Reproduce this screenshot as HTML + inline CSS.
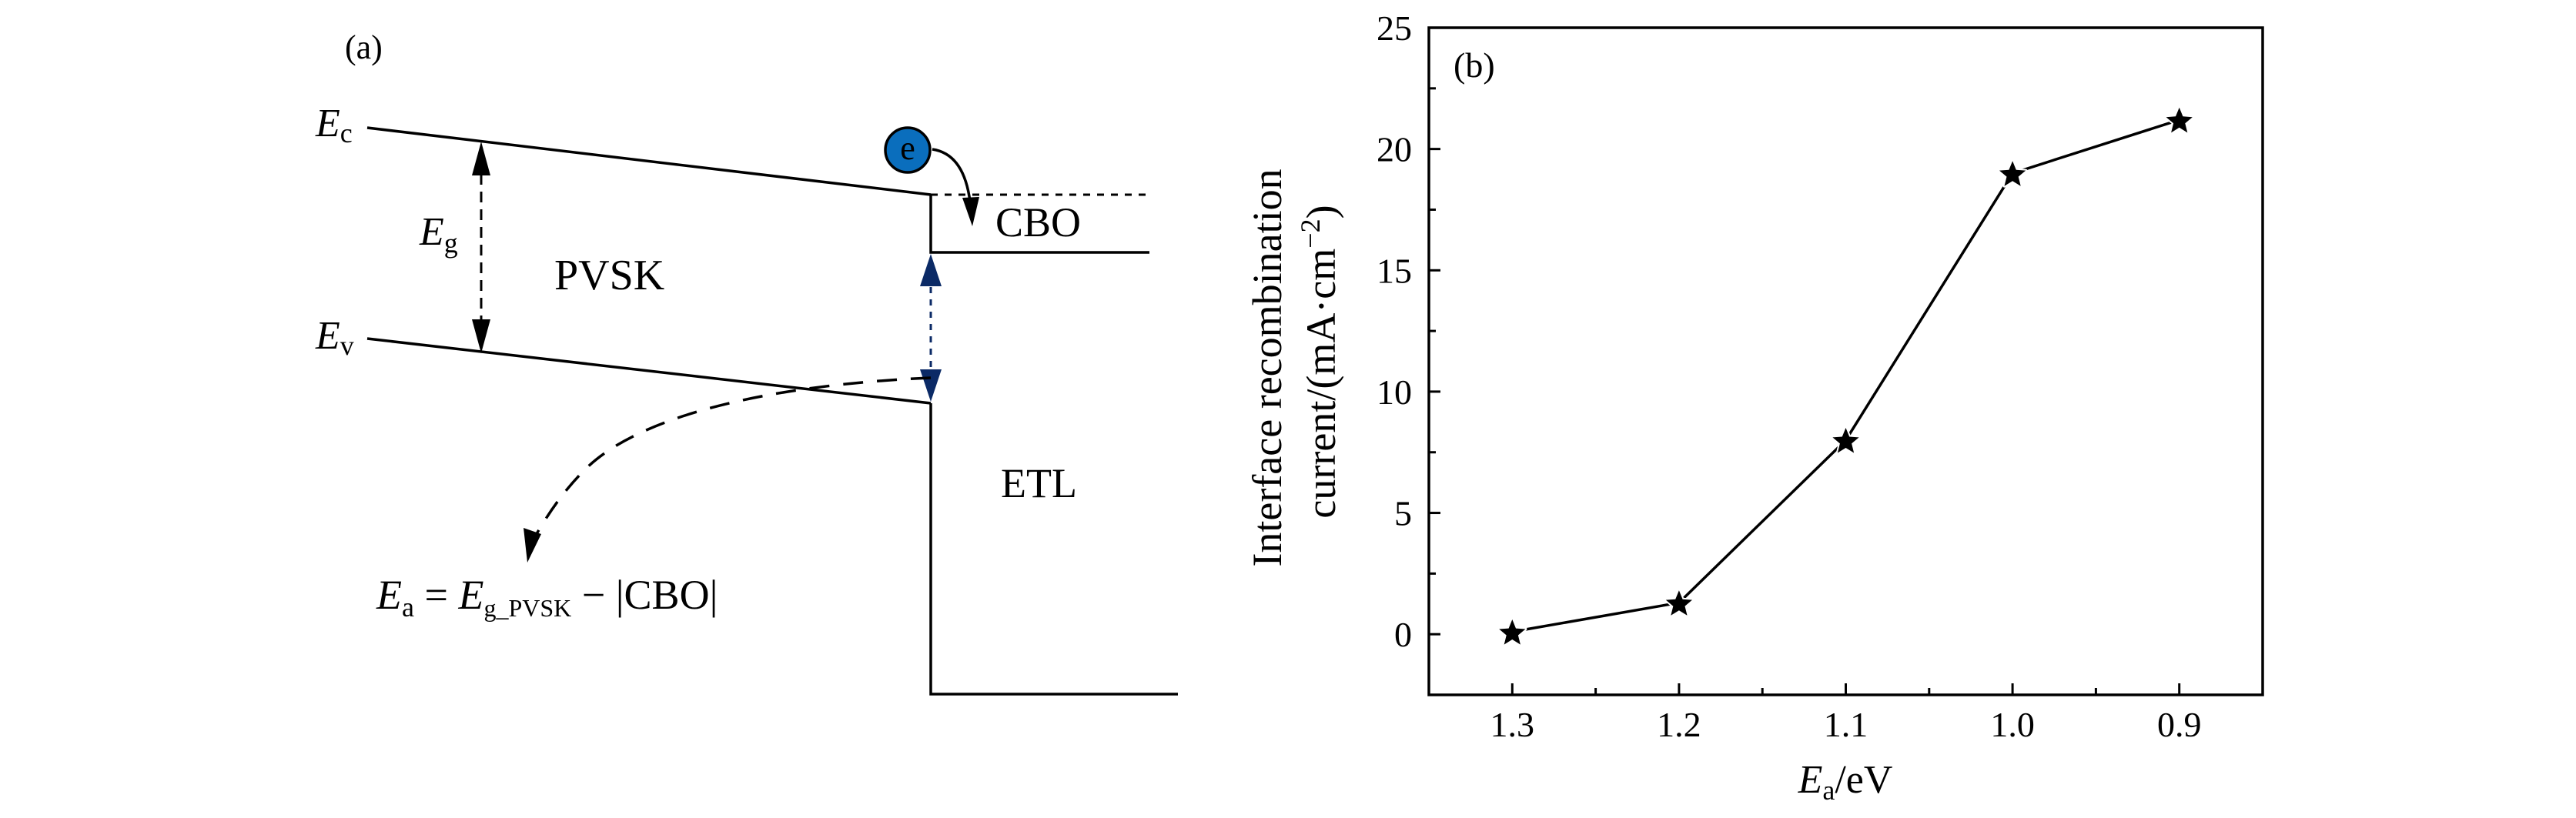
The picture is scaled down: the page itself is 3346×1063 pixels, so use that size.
<!DOCTYPE html>
<html><head><meta charset="utf-8"><style>
html,body{margin:0;padding:0;background:#fff}
svg{display:block}
text{font-family:"Liberation Serif",serif;fill:#000}
</style></head><body>
<svg id="fig" width="3346" height="1063" viewBox="0 0 3346 1063" xmlns="http://www.w3.org/2000/svg">
<g id="panel-a">
<text x="448" y="76" font-size="44">(a)</text>
<line x1="477" y1="166" x2="1209" y2="253" stroke="#000" stroke-width="3.5"/>
<line x1="477" y1="440" x2="1209" y2="524" stroke="#000" stroke-width="3.5"/>
<polyline points="1209,253 1209,328 1493,328" fill="none" stroke="#000" stroke-width="3.5"/>
<polyline points="1209,524 1209,902 1530,902" fill="none" stroke="#000" stroke-width="3.5"/>
<line x1="1209" y1="253" x2="1490" y2="253" stroke="#000" stroke-width="3" stroke-dasharray="9,9"/>
<text x="410" y="177" font-size="52" font-style="italic">E<tspan font-size="36" font-style="normal" dy="8">c</tspan></text>
<text x="410" y="453" font-size="52" font-style="italic">E<tspan font-size="36" font-style="normal" dy="8">v</tspan></text>
<line x1="625" y1="226" x2="625" y2="418" stroke="#000" stroke-width="3" stroke-dasharray="14,9"/>
<path d="M625,184 L613,228 L637,228 z M625,459 L613,415 L637,415 z" fill="#000"/>
<text x="545" y="318" font-size="52" font-style="italic">E<tspan font-size="36" font-style="normal" dy="10">g</tspan></text>
<text x="720" y="376" font-size="56">PVSK</text>
<text x="1293" y="307" font-size="54">CBO</text>
<text x="1300" y="646" font-size="54">ETL</text>
<circle cx="1179" cy="195" r="29" fill="#0a6ebd" stroke="#000" stroke-width="3.5"/>
<text x="1179" y="207" font-size="44" text-anchor="middle">e</text>
<path d="M1211,194 Q1252,200 1260,262" fill="none" stroke="#000" stroke-width="3.5"/>
<path d="M1263,294 L1250,257 L1272,256 z" fill="#000"/>
<line x1="1209" y1="373" x2="1209" y2="480" stroke="#0b2a66" stroke-width="3" stroke-dasharray="8,8"/>
<path d="M1209,330 L1195,372 L1223,372 z M1209,522 L1195,480 L1223,480 z" fill="#0b2a66"/>
<path d="M1209,491 C1000,500 830,540 760,610 C720,650 700,690 693,700" fill="none" stroke="#000" stroke-width="3.5" stroke-dasharray="26,18"/>
<path d="M685,731 L680,686 L703,694 z" fill="#000"/>
<text x="489" y="791" font-size="54"><tspan font-style="italic">E</tspan><tspan font-size="36" dy="10">a</tspan><tspan dy="-10"> = </tspan><tspan font-style="italic">E</tspan><tspan font-size="32" dy="10">g_PVSK</tspan><tspan dy="-10"> − |CBO|</tspan></text>
</g>
<g id="panel-b"></g>
<script>
var xValues = [1.3, 1.2, 1.1, 1.0, 0.9];
var yValues = [0.1, 1.3, 8.0, 19.0, 21.2];
var xTickLabels = ["1.3", "1.2", "1.1", "1.0", "0.9"];
var yTickValues = [0, 5, 10, 15, 20, 25];
var yTickLabels = ["0", "5", "10", "15", "20", "25"];

var L = 1856, R = 2939, T = 36, B = 903;
var X0 = 1.35, X1 = 0.85, Y0 = -2.5, Y1 = 25;
function sx(v){ return L + (v - X0) / (X1 - X0) * (R - L); }
function sy(v){ return B - (v - Y0) / (Y1 - Y0) * (B - T); }
var NS = "http://www.w3.org/2000/svg";
var g = document.getElementById('panel-b');
function mk(tag, attrs, parent){ var e = document.createElementNS(NS, tag); for (var k in attrs) e.setAttribute(k, attrs[k]); (parent || g).appendChild(e); return e; }
function ts(parent, txt, attrs){ var s = mk('tspan', attrs || {}, parent); s.textContent = txt; return s; }

var frame = mk('rect', {x:L, y:T, width:R-L, height:B-T, fill:'none', stroke:'#000', 'stroke-width':3.5});



var v, i, t, lbl;
for (v = 0.9; v <= 1.351; v += 0.05) {
  var major = Math.abs(Math.round(v*10) - v*10) < 0.01;
  t = mk('line', {x1:sx(v), x2:sx(v), y1:B, y2:B-(major?15:9), stroke:'#000', 'stroke-width':3});
  
  
}
for (v = 0; v <= 25; v += 2.5) {
  var maj = (v % 5) === 0;
  t = mk('line', {x1:L, x2:L+(maj?15:9), y1:sy(v), y2:sy(v), stroke:'#000', 'stroke-width':3});
  
  
}
for (i = 0; i < xValues.length; i++) {
  lbl = mk('text', {x:sx(xValues[i]), y:957, 'font-size':46, 'text-anchor':'middle'});
  lbl.textContent = xTickLabels[i];
  
  
}
for (i = 0; i < yTickValues.length; i++) {
  lbl = mk('text', {x:1834, y:sy(yTickValues[i])+16, 'font-size':46, 'text-anchor':'end'});
  lbl.textContent = yTickLabels[i];
  
  
}
var pts = [];
for (i = 0; i < xValues.length; i++) pts.push(sx(xValues[i]) + ',' + sy(yValues[i]));
var line = mk('polyline', {points:pts.join(' '), fill:'none', stroke:'#000', 'stroke-width':3.5});


function starPath(cx, cy, ro, ri){
  var d = '';
  for (var k = 0; k < 10; k++) {
    var r = k % 2 ? ri : ro, a = -Math.PI/2 + k*Math.PI/5;
    d += (k ? 'L' : 'M') + (cx + r*Math.cos(a)).toFixed(1) + ',' + (cy + r*Math.sin(a)).toFixed(1);
  }
  return d + 'Z';
}
for (i = 0; i < xValues.length; i++) {
  var st = mk('path', {d:starPath(sx(xValues[i]), sy(yValues[i])+2, 18, 8), fill:'#000', stroke:'#fff', 'stroke-width':4, 'paint-order':'stroke', 'stroke-linejoin':'round'});
  
  
}
var bl = mk('text', {x:1888, y:100, 'font-size':46});
bl.textContent = '(b)';



var xt = mk('text', {x:2397, y:1030, 'font-size':52, 'text-anchor':'middle'});
ts(xt, 'E', {'font-style':'italic'});
ts(xt, 'a', {'font-size':36, dy:9});
ts(xt, '/eV', {dy:-9});



var yt1 = mk('text', {x:0, y:0, 'font-size':54, 'text-anchor':'middle', transform:'translate(1664,478) rotate(-90)'});
yt1.textContent = 'Interface recombination';


var yt2 = mk('text', {x:0, y:0, 'font-size':54, 'text-anchor':'middle', transform:'translate(1734,470) rotate(-90)'});
ts(yt2, 'current/(mA·cm');
ts(yt2, '−2', {'font-size':36, dy:-20});
ts(yt2, ')', {dy:20});


</script>
</svg>
</body></html>
